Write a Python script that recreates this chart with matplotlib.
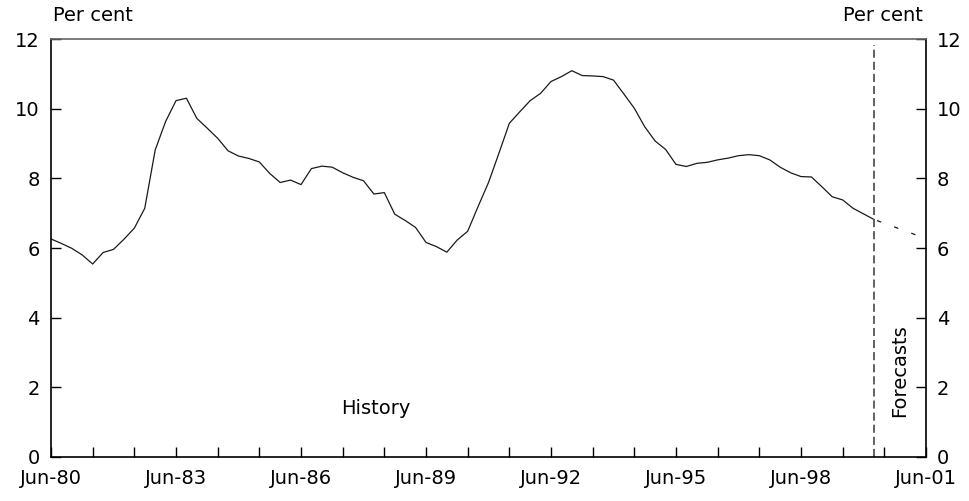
import numpy as np
import matplotlib
matplotlib.use("Agg")
import matplotlib.pyplot as plt

# quarterly rate, Jun-80 .. Mar-00
start_year = 1980.5
history = [6.26, 6.13, 5.99, 5.80, 5.54, 5.87, 5.96, 6.25, 6.57, 7.14,
           8.81, 9.63, 10.23, 10.30, 9.72, 9.44, 9.15, 8.79, 8.64, 8.57,
           8.47, 8.14, 7.88, 7.95, 7.82, 8.28, 8.35, 8.32, 8.16, 8.03,
           7.93, 7.55, 7.59, 6.97, 6.79, 6.59, 6.16, 6.04, 5.88, 6.23,
           6.48, 7.19, 7.88, 8.72, 9.58, 9.91, 10.23, 10.44, 10.78, 10.92,
           11.09, 10.95, 10.94, 10.92, 10.82, 10.42, 10.01, 9.48, 9.07, 8.83,
           8.40, 8.34, 8.43, 8.46, 8.53, 8.58, 8.65, 8.68, 8.65, 8.53,
           8.32, 8.16, 8.05, 8.04, 7.76, 7.47, 7.38, 7.14, 6.98, 6.82]
forecast_x = [1999 + 0.75 + 0.5, 2000 + 0.75 + 0.5]   # Mar-00, Mar-01
forecast_y = [6.82, 6.38]
split_x = 1999.75 + 0.5
tick_labels = ["Jun-80", "Jun-83", "Jun-86", "Jun-89", "Jun-92", "Jun-95", "Jun-98", "Jun-01"]

t = start_year + 0.25 * np.arange(len(history))

plt.rcParams['font.family'] = ['DejaVu Sans']
fs = 14

fig = plt.figure(figsize=(9.69, 5.01), dpi=100)
ax = fig.add_axes([51/969, 1-457/501, 875/969, 418/501])

ax.plot(t, history, color="#1a1a1a", lw=0.9)
ax.plot(forecast_x, forecast_y, color="#1a1a1a", lw=0.9, linestyle=(12, (3.6, 11)))
ax.axvline(split_x, ymin=0, ymax=0.985, color="#555555", lw=1.3, linestyle=(0, (4.5, 2.2)))

ax.set_xlim(1980.5, 2001.5)
ax.set_ylim(0, 12)
ax.set_xticks(np.arange(1980.5, 2001.6, 1.0), minor=True)
ax.set_xticks(np.arange(1980.5, 2001.6, 3.0))
ax.set_xticklabels(tick_labels)
ax.set_yticks(np.arange(0, 13, 2))

ax.tick_params(axis="both", which="both", direction="in", length=7, width=1,
               labelsize=fs, colors="black")
ax.tick_params(axis="y", left=True, right=True, labelleft=True, labelright=True, pad=8)
ax.tick_params(axis="x", which="both", top=False, pad=9)

for s in ["left", "right", "bottom"]:
    ax.spines[s].set_linewidth(1.2)
    ax.spines[s].set_color("black")
ax.spines["top"].set_color("#666666")
ax.spines["top"].set_linewidth(1.2)

ax.text(1988.3, 1.38, "History", fontsize=fs, ha="center", va="center")
ax.text(2000.87, 2.47, "Forecasts", fontsize=fs, ha="center", va="center", rotation=90)

fig.text(53/969, 1-25/501, "Per cent", fontsize=fs, ha="left", va="bottom")
fig.text(923/969, 1-25/501, "Per cent", fontsize=fs, ha="right", va="bottom")

fig.savefig("out.png", dpi=100)
